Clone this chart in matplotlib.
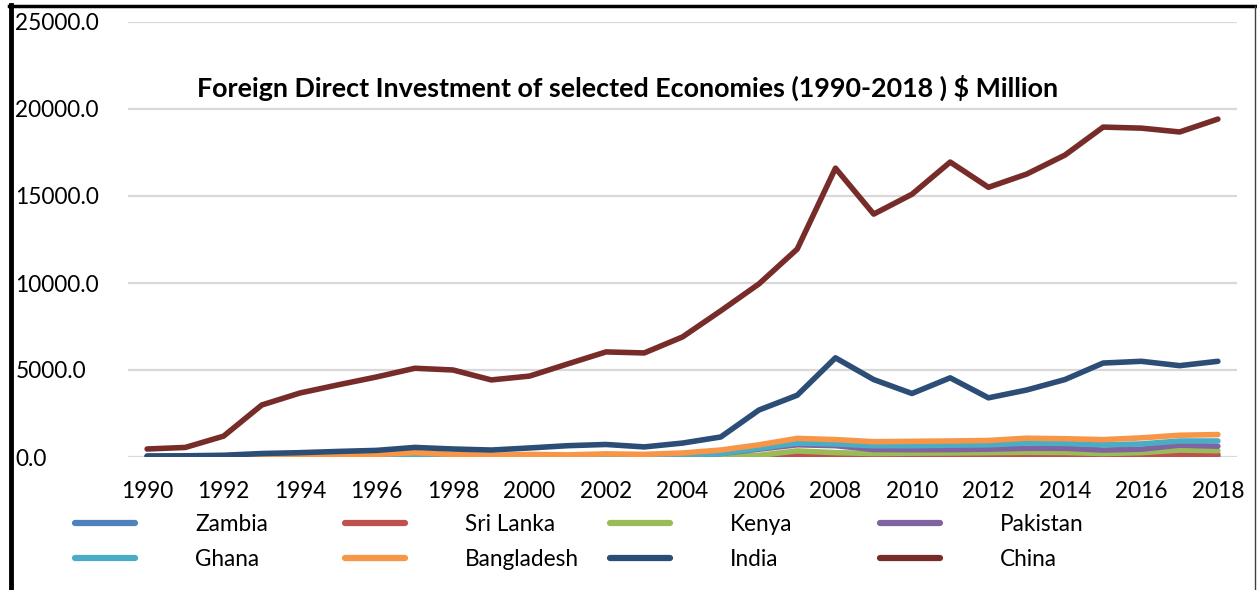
import numpy as np
import matplotlib.pyplot as plt
from matplotlib.lines import Line2D

plt.rcParams['font.family'] = ['Lato', 'DejaVu Sans']

years = np.arange(1990, 2019)

zambia = [10, 10, 15, 20, 20, 25, 30, 40, 30, 20, 25, 20, 25, 25, 30, 40, 50, 60, 40, 30, 40, 30, 40, 50, 40, 40, 30, 50, 40]
sri_lanka = [10, 10, 15, 20, 20, 25, 30, 40, 30, 25, 30, 25, 30, 30, 40, 50, 60, 100, 90, 80, 120, 110, 130, 160, 140, 120, 60, 140, 150]
kenya = [20, 10, 10, 15, 10, 15, 20, 25, 20, 20, 25, 20, 25, 30, 40, 50, 100, 350, 250, 200, 220, 230, 250, 270, 260, 200, 250, 400, 360]
pakistan = [20, 20, 25, 30, 35, 40, 45, 60, 50, 40, 45, 40, 50, 50, 80, 200, 450, 700, 650, 430, 420, 420, 450, 500, 500, 400, 450, 680, 620]
ghana = [15, 15, 20, 25, 30, 35, 40, 50, 40, 30, 35, 30, 35, 40, 80, 200, 500, 800, 750, 650, 650, 680, 700, 800, 780, 700, 750, 920, 920]
bangladesh = [20, 20, 30, 50, 70, 100, 150, 250, 150, 100, 150, 120, 180, 150, 230, 400, 700, 1070, 1000, 880, 900, 920, 950, 1080, 1050, 1000, 1100, 1250, 1290]
india = [60, 70, 100, 200, 250, 320, 380, 550, 460, 400, 520, 650, 720, 580, 800, 1150, 2700, 3550, 5700, 4450, 3650, 4550, 3400, 3850, 4450, 5400, 5500, 5250, 5500]
china = [460, 550, 1200, 2990, 3680, 4150, 4600, 5100, 5000, 4430, 4650, 5350, 6040, 5980, 6900, 8400, 9950, 11950, 16600, 13960, 15100, 16950, 15500, 16260, 17350, 18960, 18900, 18680, 19420]

names = ['Zambia', 'Sri Lanka', 'Kenya', 'Pakistan', 'Ghana', 'Bangladesh', 'India', 'China']
series = [zambia, sri_lanka, kenya, pakistan, ghana, bangladesh, india, china]
colors = ['#4F81BD', '#C0504D', '#9BBB59', '#8064A2', '#4BACC6', '#F79646', '#2C4D75', '#772C2A']

fig = plt.figure(figsize=(12.57, 5.90), dpi=100)
ax = fig.add_axes([128 / 1257, 133 / 590, (1237 - 128) / 1257, (457 - 22) / 590])

handles = []
for name, vals, c in zip(names, series, colors):
    h, = ax.plot(years, vals, color=c, lw=4.0, solid_capstyle='round',
                 solid_joinstyle='round', label=name)
    handles.append(h)

ax.set_xlim(1989.5, 2018.5)
ax.set_ylim(0, 25000)
ax.set_xticks(years[::2])
ax.set_yticks(np.arange(0, 25001, 5000))
ax.set_yticklabels(['%.1f' % v for v in np.arange(0, 25001, 5000)])
ax.yaxis.grid(True, color='#D9D9D9', lw=1.6)
ax.set_axisbelow(True)
for s in ax.spines.values():
    s.set_visible(False)
ax.tick_params(axis='both', length=0, labelsize=16.3)
ax.tick_params(axis='x', pad=17)
ax.tick_params(axis='y', pad=81)
for lab in ax.get_yticklabels():
    lab.set_horizontalalignment('left')

fig.text(628 / 1257, 1 - 88 / 590, 'Foreign Direct Investment of selected Economies (1990-2018 ) $ Million',
         ha='center', va='center', fontsize=19.4, fontweight='bold')

# four fixed-width legend columns, two rows each
col_x = [75, 345, 610, 880]
for i, x in enumerate(col_x):
    pair = [handles[i], handles[i + 4]]
    hs = [Line2D([], [], color=h.get_color(), lw=4.5, solid_capstyle='round') for h in pair]
    fig.legend(hs, [h.get_label() for h in pair], loc='upper left',
               bbox_to_anchor=(x / 1257, 1 - 514 / 590), frameon=False,
               fontsize=16.3, handlelength=2.65, handletextpad=2.65,
               labelspacing=0.6, borderaxespad=0, borderpad=0)

# chart frame
fig.add_artist(Line2D([10.5 / 1257, 10.5 / 1257], [0, 1 - 5 / 590], color='black', lw=3.5))
fig.add_artist(Line2D([9 / 1257, 1], [1 - 6 / 590, 1 - 6 / 590], color='black', lw=2.5))
fig.add_artist(Line2D([1255 / 1257, 1255 / 1257], [0, 1 - 6 / 590], color='#404040', lw=1))

fig.savefig('out.png', dpi=100)
